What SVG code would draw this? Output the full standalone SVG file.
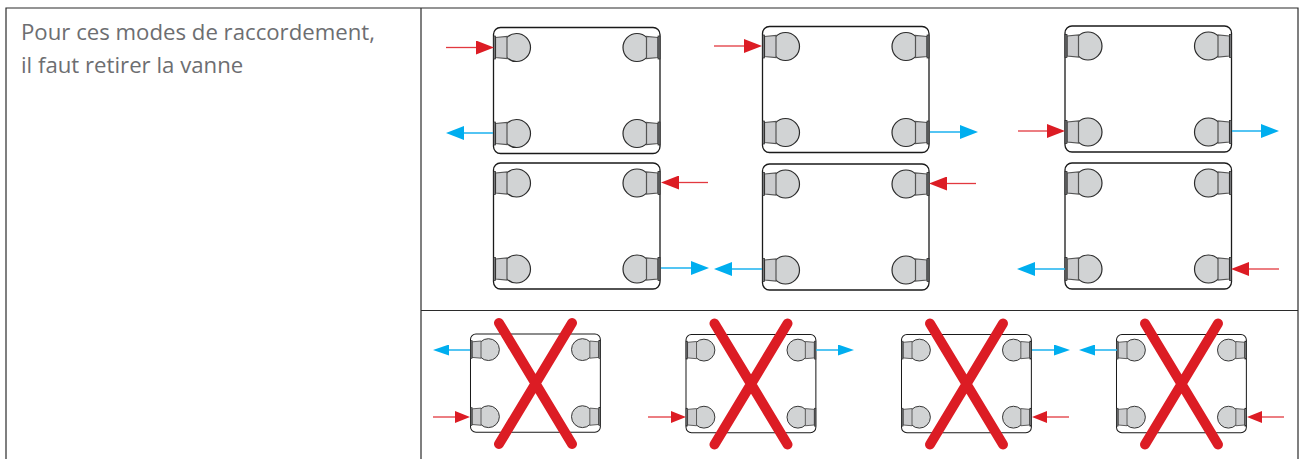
<svg xmlns="http://www.w3.org/2000/svg" xmlns:xlink="http://www.w3.org/1999/xlink" width="1300" height="459" viewBox="0 0 1300 459">
<style>
.rule{stroke:#2b2b2b;stroke-width:1.2;fill:none}
.label{font-family:"Open Sans","Noto Sans",sans-serif;font-size:22.2px;fill:#6d6e71}
.box{fill:#fff;stroke:#1a1a1a;stroke-width:1.3}
.ball{fill:#d1d3d4;stroke:#2b2b2b;stroke-width:1.2}
.neck{fill:#cbccce;stroke:#555;stroke-width:1.2}
.flange{fill:#77787a;stroke:#222;stroke-width:.7}
.cross{stroke:#dc1c24;stroke-width:10;stroke-linecap:round;fill:none}
.in{stroke:#e2383f;stroke-width:1.3;fill:none}
.out{stroke:#29b6f0;stroke-width:1.6;fill:none}
.in.b{marker-end:url(#hr)}.out.b{marker-end:url(#hb)}
.in.s{marker-end:url(#sr)}.out.s{marker-end:url(#sb)}
</style>
<defs>
<marker id="hr" markerUnits="userSpaceOnUse" markerWidth="18" markerHeight="14" refX="0" refY="7" orient="auto"><path d="M0 0L18 7L0 14Z" fill="#dc1c24"/></marker>
<marker id="hb" markerUnits="userSpaceOnUse" markerWidth="18" markerHeight="14" refX="0" refY="7" orient="auto"><path d="M0 0L18 7L0 14Z" fill="#00aeef"/></marker>
<marker id="sr" markerUnits="userSpaceOnUse" markerWidth="15" markerHeight="12" refX="0" refY="6" orient="auto"><path d="M0 0L15 6L0 12Z" fill="#dc1c24"/></marker>
<marker id="sb" markerUnits="userSpaceOnUse" markerWidth="16" markerHeight="11" refX="0" refY="5.5" orient="auto"><path d="M0 0L16 5.5L0 11Z" fill="#00aeef"/></marker>
<g id="port">
<circle class="ball" cx="23" cy="0" r="14"/>
<path class="neck" d="M2 -10L13.500 -11V11L2 10Z"/>
<rect class="flange" x="0" y="-11.500" width="2" height="23"/>
</g>
<g id="unit">
<rect class="box" x="0" y="0" width="166.500" height="126" rx="7"/>
<use xlink:href="#port" href="#port" transform="translate(0,20)"/>
<use xlink:href="#port" href="#port" transform="translate(0,106)"/>
<use xlink:href="#port" href="#port" transform="translate(166.500,20) scale(-1,1)"/>
<use xlink:href="#port" href="#port" transform="translate(166.500,106) scale(-1,1)"/>
</g>
<g id="cancel">
<use xlink:href="#unit" href="#unit" transform="scale(.78)"/>
<path class="cross" d="M28.500 -11L101.500 110M101.500 -11L28.500 110"/>
</g>
</defs>
<rect width="1300" height="459" fill="#fff"/>
<g id="table">
<path class="rule" d="M6 459V8H1298V459M421 8V459M421 310.500H1298"/>
</g>
<g id="caption">
<text class="label" x="21" y="40">Pour ces modes de raccordement,</text>
<text class="label" x="21" y="73">il faut retirer la vanne</text>
</g>
<g id="unit-1"><use xlink:href="#unit" href="#unit" x="493.500" y="27.500"/></g>
<g id="unit-2"><use xlink:href="#unit" href="#unit" x="762.500" y="26.500"/></g>
<g id="unit-3"><use xlink:href="#unit" href="#unit" x="1065" y="26"/></g>
<g id="unit-4"><use xlink:href="#unit" href="#unit" x="493.500" y="163"/></g>
<g id="unit-5"><use xlink:href="#unit" href="#unit" x="762.500" y="164"/></g>
<g id="unit-6"><use xlink:href="#unit" href="#unit" x="1065" y="163"/></g>
<g id="cancel-1"><use xlink:href="#cancel" href="#cancel" x="470.500" y="334"/></g>
<g id="cancel-2"><use xlink:href="#cancel" href="#cancel" x="686" y="334.500"/></g>
<g id="cancel-3"><use xlink:href="#cancel" href="#cancel" x="901.500" y="334.500"/></g>
<g id="cancel-4"><use xlink:href="#cancel" href="#cancel" x="1116.500" y="334.500"/></g>
<g id="connectors">
<path class="in b" d="M446 47.500H476"/>
<path class="in b" d="M714 46H744"/>
<path class="in b" d="M1018 131H1047"/>
<path class="in b" d="M708 182.500H679"/>
<path class="in b" d="M976 183.500H947"/>
<path class="in b" d="M1279 269H1249"/>
<path class="out b" d="M493 133H464"/>
<path class="out b" d="M930 132H960"/>
<path class="out b" d="M1232 131H1261"/>
<path class="out b" d="M661 268H691"/>
<path class="out b" d="M762 269H732"/>
<path class="out b" d="M1065 269H1035"/>
<path class="out s" d="M470 350H449"/>
<path class="in s" d="M433 417H455"/>
<path class="out s" d="M816 350H838"/>
<path class="in s" d="M648 417H671"/>
<path class="out s" d="M1032 350H1054"/>
<path class="in s" d="M1069 417H1047"/>
<path class="out s" d="M1117 350H1095"/>
<path class="in s" d="M1284 417H1262"/>
</g>
</svg>
